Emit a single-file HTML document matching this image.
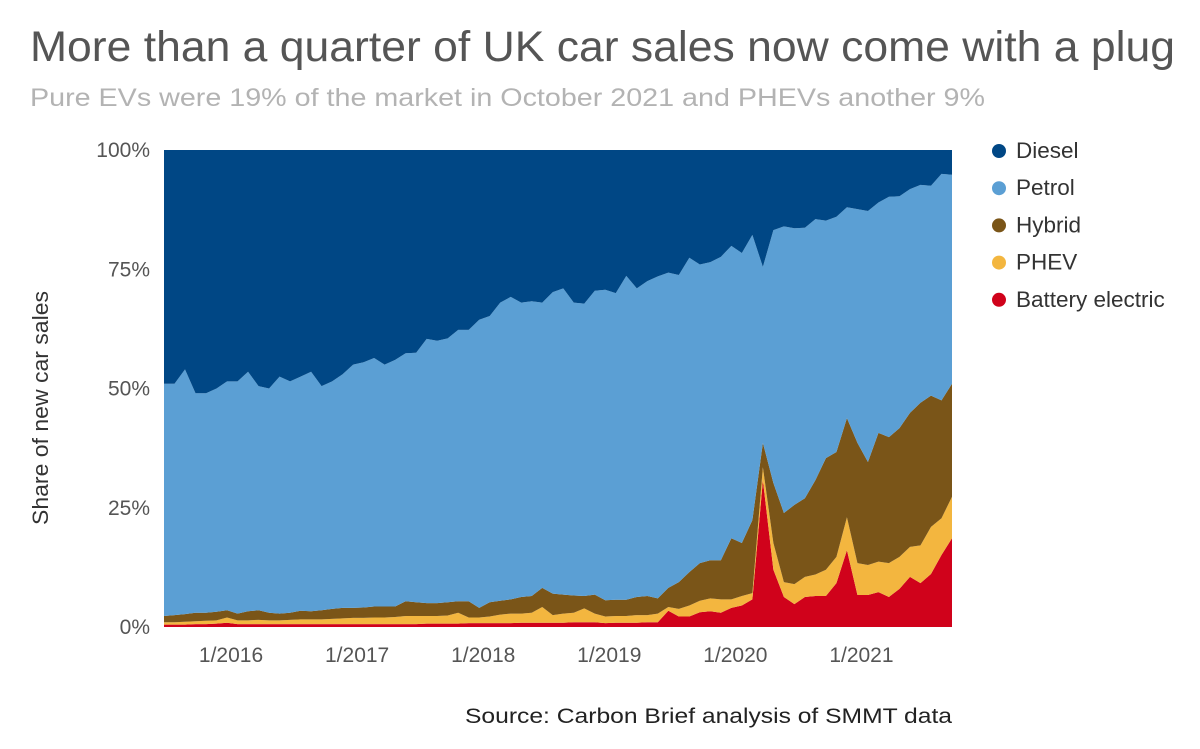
<!DOCTYPE html>
<html><head><meta charset="utf-8"><style>
body{margin:0;background:#fff;width:1200px;height:744px;overflow:hidden;font-family:"Liberation Sans",Arial,sans-serif}
</style></head><body>
<svg id="chart" width="1200" height="744" xmlns="http://www.w3.org/2000/svg" font-family="Liberation Sans, Arial, sans-serif">
<text x="30" y="61" font-size="43" fill="#555" textLength="1145" lengthAdjust="spacingAndGlyphs">More than a quarter of UK car sales now come with a plug</text>
<text x="30" y="106" font-size="25" fill="#b3b3b3" textLength="955" lengthAdjust="spacingAndGlyphs">Pure EVs were 19% of the market in October 2021 and PHEVs another 9%</text>
<g id="areas"></g>
<g id="yticks"></g>
<g id="xticks"></g>
<text transform="translate(48,408) rotate(-90)" text-anchor="middle" font-size="22" fill="#333" textLength="234" lengthAdjust="spacingAndGlyphs">Share of new car sales</text>
<g id="legend"></g>
<text x="952" y="723" text-anchor="end" font-size="21" fill="#222" textLength="487" lengthAdjust="spacingAndGlyphs">Source: Carbon Brief analysis of SMMT data</text>
</svg>
<script>
const startYear = 2015, startMonth = 7; // July 2015
const bev = [0.5,0.5,0.5,0.6,0.6,0.7,0.9,0.6,0.6,0.6,0.6,0.6,
0.6,0.6,0.6,0.6,0.6,0.6,0.6,0.6,0.6,0.6,0.6,0.6,
0.6,0.7,0.7,0.7,0.7,0.8,0.8,0.8,0.8,0.8,0.9,0.9,
0.9,0.9,0.9,1.0,1.0,1.0,0.8,0.9,0.9,0.9,1.0,1.0,
3.4,2.2,2.2,3.1,3.3,3.0,4.0,4.5,5.8,
30.8,12,6.3,4.8,6.3,6.5,6.5,9.2,16.1,6.7,6.7,7.3,6.3,8,10.5,9.2,11.1,15.1,18.6];
const phev = [0.5,0.5,0.6,0.6,0.7,0.7,1.1,0.8,0.8,0.9,0.8,0.8,
0.9,1.0,1.0,1.0,1.1,1.2,1.3,1.3,1.4,1.4,1.5,1.7,
1.7,1.6,1.6,1.7,2.3,1.2,1.2,1.4,1.8,2.0,1.9,2.1,
3.3,1.6,1.9,2.0,2.9,1.8,1.4,1.4,1.4,1.6,1.5,1.8,
0.8,1.6,2.3,2.4,2.7,2.8,1.8,2.0,1.3,
2.7,5.6,3.1,4.2,4.2,4.5,5.5,5.5,6.9,6.7,6.3,6.4,7.1,6.7,6.3,7.9,9.9,7.7,8.7];
const hybrid = [1.3,1.5,1.6,1.8,1.7,1.8,1.5,1.4,1.9,2.0,1.6,1.4,
1.5,1.8,1.7,1.9,2.1,2.2,2.1,2.2,2.3,2.3,2.2,3.1,
2.9,2.7,2.7,2.8,2.4,3.4,2.0,3.0,2.9,3.0,3.5,3.5,
4.0,4.5,4.0,3.6,2.6,4.0,3.4,3.4,3.4,3.8,4.0,3.2,
4.0,5.6,7.0,7.9,8.0,8.2,12.8,11.1,15.3,
5.1,12.6,14.5,16.6,16.5,19.8,23.4,22,20.8,25.2,21.6,27,26.4,27,28.1,29.9,27.5,24.7,23.7];
const petrol = [48.7,48.5,51.3,46,46,46.8,48,48.7,50.2,47,47,49.7,
48.5,49.1,50.2,47,47.7,49,51,51.4,52.1,50.7,51.7,52,
52.3,55.4,55,55.3,56.9,56.9,60.4,60,62.5,63.4,61.7,61.8,
59.8,63.2,64.2,61.4,61.3,63.7,65.1,64.3,67.9,64.7,66,67.5,
66.1,64.4,65.9,62.6,62.5,63.6,61.3,60.8,59.8,
36.9,53,60.1,58,56.7,54.7,49.8,49.3,44.2,49,52.6,48.3,50.4,48.6,46.9,45.7,44,47.5,43.8];
const diesel = [49,49,46,51,51,50,48.5,48.5,46.5,49.5,50,47.5,
48.5,47.5,46.5,49.5,48.5,47,45,44.5,43.6,45,44,42.6,
42.5,39.6,40,39.5,37.7,37.7,35.6,34.8,32,30.8,32,31.7,
32,29.8,29,32,32.2,29.5,29.3,30,26.4,29,27.5,26.5,
25.7,26.2,22.6,24,23.5,22.4,20.1,21.6,17.8,
24.5,16.8,16,16.4,16.3,14.5,14.8,14,12,12.4,12.8,11,9.8,9.7,8.2,7.3,7.5,5,5.2];
const seriesNames = ["Battery electric","PHEV","Hybrid","Petrol","Diesel"];
const seriesColors = ["#d0021b","#f3b63f","#7a5518","#5b9fd4","#004785"];
const yTicks = [0,25,50,75,100];
const xTickLabels = ["1/2016","1/2017","1/2018","1/2019","1/2020","1/2021"];

const NS="http://www.w3.org/2000/svg";
const X0=164,X1=952,Y0=627,Y1=150;
const n=bev.length;
const xs=i=>X0+i*(X1-X0)/(n-1);
const ys=v=>Y0-v*(Y0-Y1)/100;
const series=[bev,phev,hybrid,petrol,diesel];
const areas=document.getElementById('areas');
let base=new Array(n).fill(0);
series.forEach((s,k)=>{
  const tot=i=>bev[i]+phev[i]+hybrid[i]+petrol[i]+diesel[i];
  const top=base.map((b,i)=>b+s[i]*100/tot(i));
  let d="M"+xs(0)+","+ys(top[0]);
  for(let i=1;i<n;i++) d+="L"+xs(i)+","+ys(top[i]);
  for(let i=n-1;i>=0;i--) d+="L"+xs(i)+","+ys(base[i]);
  d+="Z";
  const p=document.createElementNS(NS,'path');
  p.setAttribute('d',d);p.setAttribute('fill',seriesColors[k]);
  
  
  areas.appendChild(p);
  base=top;
});
const yg=document.getElementById('yticks');
yTicks.forEach(v=>{
  const t=document.createElementNS(NS,'text');
  t.setAttribute('x',150);t.setAttribute('y',ys(v)+7);
  t.setAttribute('text-anchor','end');t.setAttribute('font-size','21');t.setAttribute('fill','#555');
  t.textContent=v+"%";
  
  
  yg.appendChild(t);
});
const xg=document.getElementById('xticks');
xTickLabels.forEach(lbl=>{
  const [m,y]=lbl.split('/').map(Number);
  const idx=(y-startYear)*12+(m-startMonth);
  const t=document.createElementNS(NS,'text');
  t.setAttribute('x',xs(idx)+4);t.setAttribute('y',662);
  t.setAttribute('text-anchor','middle');t.setAttribute('font-size','21');t.setAttribute('fill','#555');
  t.textContent=lbl;
  
  
  xg.appendChild(t);
});
const lg=document.getElementById('legend');
[4,3,2,1,0].forEach((k,j)=>{
  const g=document.createElementNS(NS,'g');
  
  
  const c=document.createElementNS(NS,'circle');
  c.setAttribute('cx',999);c.setAttribute('cy',151+j*37.2);c.setAttribute('r',7);c.setAttribute('fill',seriesColors[k]);
  const t=document.createElementNS(NS,'text');
  t.setAttribute('x',1016);t.setAttribute('y',158+j*37.2);t.setAttribute('font-size','22.5');t.setAttribute('fill','#333');
  t.textContent=seriesNames[k];
  g.appendChild(c);g.appendChild(t);lg.appendChild(g);
});
</script>
</body></html>
